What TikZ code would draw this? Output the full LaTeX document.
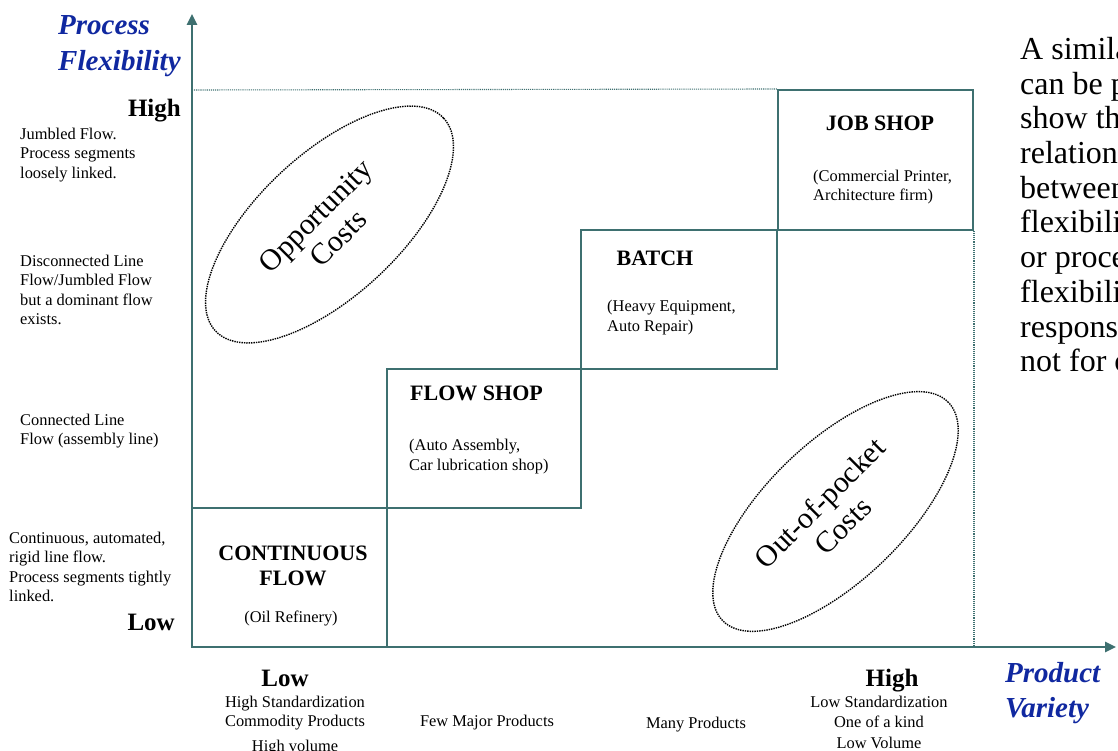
\documentclass[tikz,border=0pt]{standalone}
\usepackage{fontspec}
\setmainfont{Liberation Serif}
\usetikzlibrary{arrows.meta,shapes.geometric}
\definecolor{axisteal}{RGB}{62,112,112}
\definecolor{labelblue}{RGB}{16,40,160}
\begin{document}
\begin{tikzpicture}[x=1pt,y=1pt,
  cell/.style={draw=axisteal, line width=2pt, rectangle, inner sep=0pt},
  axisline/.style={draw=axisteal, line width=2.5pt, -{Triangle[length=11pt,width=10pt]}},
  guide/.style={draw=axisteal, line width=1.1pt, densely dotted},
  costring/.style={draw=black, line width=1.4pt, densely dotted, ellipse, inner sep=0pt},
  small/.style={font=\fontsize{16.4}{19.5}\selectfont, inner sep=0pt, align=left},
  smallc/.style={font=\fontsize{16.4}{19.5}\selectfont, inner sep=0pt, align=center},
  boxtitle/.style={font=\fontsize{22}{25.7}\selectfont\bfseries, inner sep=0pt, align=center},
  level/.style={font=\fontsize{25}{28}\selectfont\bfseries, inner sep=0pt},
  axistitle/.style={font=\fontsize{29}{35.5}\selectfont\bfseries\itshape, text=labelblue, inner sep=0pt},
  costtext/.style={font=\fontsize{30}{32}\selectfont, inner sep=0pt, align=center},
  para/.style={font=\fontsize{32}{34.7}\selectfont, inner sep=0pt, align=left}
]
\useasboundingbox (0,0) rectangle (1118,-751);

% axes
\coordinate (o) at (192,-647);
\coordinate (ytip) at (192,-14);
\coordinate (xtip) at (1116,-647);

% process boxes (staircase)
\node[cell, minimum width=195pt, minimum height=139pt] (cf) at (289.5,-577.5) {};
\node[cell, minimum width=194pt, minimum height=139pt] (fs) at (484,-438.5) {};
\node[cell, minimum width=196pt, minimum height=139pt] (ba) at (679,-299.5) {};
\node[cell, minimum width=195pt, minimum height=140pt] (js) at (875.5,-160) {};

% dotted guides
\coordinate (gl) at (192,-90);
\draw[guide] (gl) -- (js.north west);
\draw[guide] (js.south east) -- (js.south east |- o);

\draw[axisline] (o) -- (ytip);
\draw[axisline] (o) -- (xtip);

% box texts
\node[boxtitle] (cft) at (293,-566) {CONTINUOUS\\FLOW};
\node[smallc] (cfe) at (291,-618) {(Oil Refinery)};
\node[boxtitle, anchor=west] (fst) at (410,-393) {FLOW SHOP};
\node[small, anchor=west] (fse) at (409,-456.5) {(Auto Assembly,\\Car lubrication shop)};
\node[boxtitle] (bat) at (655,-258) {BATCH};
\node[small, anchor=west] (bae) at (607,-317.5) {(Heavy Equipment,\\Auto Repair)};
\node[boxtitle] (jst) at (880,-123) {JOB SHOP};
\node[small, anchor=west] (jse) at (813,-187) {(Commercial Printer,\\Architecture firm)};

% cost regions
\node[costring, minimum width=312pt, minimum height=142pt, rotate=43] (opp) at (329.5,-224.5) {};
\node[costtext, rotate=45] (oppt) at (327,-227) {Opportunity\\Costs};
\node[costring, minimum width=314pt, minimum height=138pt, rotate=44] (oop) at (835.5,-511.5) {};
\node[costtext, rotate=45] (oopt) at (831,-514) {Out-of-pocket\\Costs};

% vertical axis labels
\node[axistitle, align=left, anchor=west] (yl) at (58,-46) {Process\\Flexibility};
\node[level, anchor=east] (yhi) at (181,-111) {High};
\node[small, anchor=west] (y1) at (20,-155) {Jumbled Flow.\\Process segments\\loosely linked.};
\node[small, anchor=west] (y2) at (20,-290) {Disconnected Line\\Flow/Jumbled Flow\\but a dominant flow\\exists.};
\node[small, anchor=west] (y3) at (20,-431) {Connected Line\\Flow (assembly line)};
\node[small, anchor=west] (y4) at (9,-567) {Continuous, automated,\\rigid line flow.\\Process segments tightly\\linked.};
\node[level, anchor=east] (ylo) at (175,-622) {Low};

% horizontal axis labels
\node[level] (xlo) at (285,-678) {Low};
\node[smallc] (x1) at (295,-713) {High Standardization\\Commodity Products};
\node[smallc, anchor=base] (x1b) at (295,-751.5) {High volume};
\node[smallc] (x2) at (487,-723) {Few Major Products};
\node[smallc] (x3) at (696,-725) {Many Products};
\node[level] (xhi) at (892,-681) {High};
\node[font=\fontsize{16.4}{20.5}\selectfont, inner sep=0pt, align=center] (x4) at (879,-722) {Low Standardization\\One of a kind\\Low Volume};
\node[axistitle, align=left, anchor=west] (xl) at (1005,-693) {Product\\Variety};

% side note
\node[para, anchor=north west] (note) at (1020,-37) {A similar\\can be plotted\\show the\\relationship\\between\\flexibility\\or process\\flexibility\\responsiveness\\not for cost};
\end{tikzpicture}
\end{document}
